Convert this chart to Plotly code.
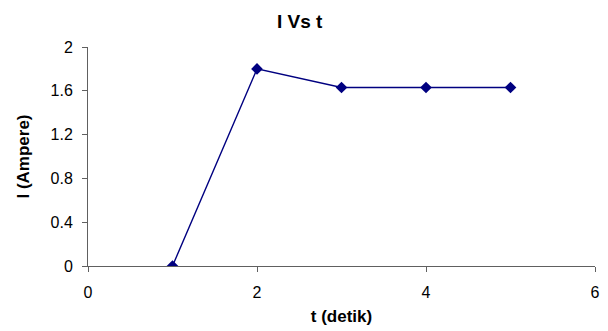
import plotly.graph_objects as go

t_values = [1, 2, 3, 4, 5]
i_values = [0.0, 1.8, 1.63, 1.63, 1.63]
x_ticks = [0, 2, 4, 6]
y_ticks = [0, 0.4, 0.8, 1.2, 1.6, 2]
y_tick_labels = ["0", "0.4", "0.8", "1.2", "1.6", "2"]

fig = go.Figure()
fig.add_trace(go.Scatter(
    x=t_values, y=i_values, mode="lines+markers",
    line=dict(color="#000080", width=1.4),
    marker=dict(symbol="diamond", size=9, color="#000080"),
    showlegend=False,
))

font = "Liberation Sans, Arial, sans-serif"
fig.update_layout(
    width=608, height=331,
    margin=dict(l=88, r=13, t=47, b=65),
    paper_bgcolor="white", plot_bgcolor="white",
    font=dict(family=font, size=16, color="black"),
    title=dict(text="<b>I Vs t</b>", x=0.493, xanchor="center", y=0.937, yanchor="middle",
               font=dict(family=font, size=19, color="black")),
)
fig.update_xaxes(
    range=[0, 6], tickvals=x_ticks, ticktext=[str(v) for v in x_ticks],
    showgrid=False, zeroline=False, showline=True, linecolor="#606060", linewidth=1,
    ticks="outside", ticklen=5, tickcolor="#606060", tickfont=dict(size=16),
    ticklabelstandoff=7, automargin=False,
    title=dict(text="<b>t (detik)</b>", font=dict(size=17), standoff=9),
)
fig.update_yaxes(
    range=[0, 2], tickvals=y_ticks, ticktext=y_tick_labels,
    showgrid=False, zeroline=False, showline=True, linecolor="#606060", linewidth=1,
    ticks="outside", ticklen=5, tickcolor="#606060", tickfont=dict(size=16),
    ticklabelstandoff=6, automargin=False,
    title=dict(text="<b>I (Ampere)</b>", font=dict(size=17), standoff=16),
)
fig.write_html("out.html")
